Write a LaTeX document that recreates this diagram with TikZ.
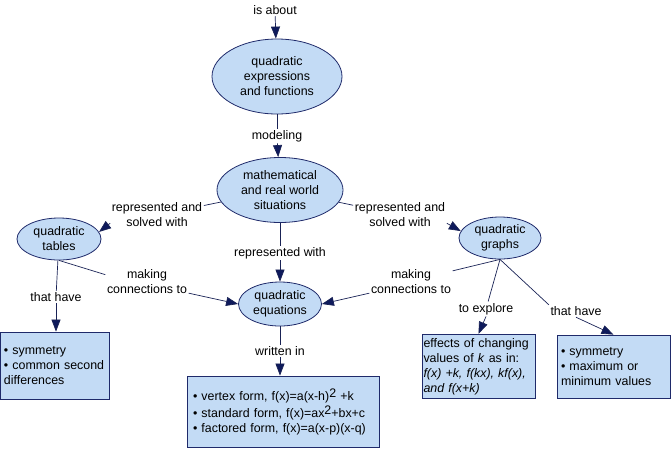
\documentclass[tikz,border=0pt]{standalone}
\usepackage{fontspec}
\setmainfont{Liberation Sans}
\usetikzlibrary{shapes.geometric,arrows.meta}

\definecolor{cfill}{HTML}{C3DBF5}
\definecolor{cline}{HTML}{1F2A6A}
\definecolor{ctip}{HTML}{0E1A5C}

\tikzset{
	every node/.style={font=\fontsize{12.4}{15}\selectfont},
	concept/.style={ellipse, draw=cline, fill=cfill, line width=0.8pt, inner sep=0pt, align=center},
	infobox/.style={rectangle, draw=cline, fill=cfill, line width=0.8pt, inner sep=5pt, align=left},
	linklbl/.style={align=center, inner sep=1.5pt},
	link/.style={draw=cline!80!black, line width=0.7pt},
	arr/.style={link, -{Triangle[length=12pt,width=9pt,fill=ctip]}}
}

\begin{document}
\begin{tikzpicture}[x=1pt, y=-1pt]
		\useasboundingbox (0,0) rectangle (671,448);

		% concepts
		\node[concept, minimum width=130pt, minimum height=75pt] (qef) at (277,76.5) {quadratic\\expressions\\and functions};
		\node[concept, minimum width=126pt, minimum height=65pt] (sit) at (280,190) {mathematical\\and real world\\situations};
		\node[concept, minimum width=84pt, minimum height=42pt] (tab) at (59,239) {quadratic\\tables};
		\node[concept, minimum width=82pt, minimum height=42pt] (gra) at (500,238) {quadratic\\graphs};
		\node[concept, minimum width=83pt, minimum height=44pt] (equ) at (280,304) {quadratic\\equations};

		% boxes
		\node[infobox, text width=101pt, minimum height=67pt, inner sep=4pt] (boxl) at (54.5,365.5)
			{\textbullet\ symmetry\\\textbullet\ common second\\differences};
		\node[infobox, text width=180pt, minimum height=71pt, inner sep=6pt] (boxf) at (283,411.5)
			{\textbullet\ vertex form, f(x)=a(x-h)\raisebox{3pt}{2} +k\\[2pt]
			 \textbullet\ standard form, f(x)=ax\raisebox{3pt}{2}+bx+c\\
			 \textbullet\ factored form, f(x)=a(x-p)(x-q)};
		\node[infobox, text width=110pt, minimum height=63pt, inner xsep=1.5pt, inner ysep=4pt] (boxe) at (478.5,366.5)
			{effects of changing\\values of \textit{k} as in:\\\textit{f(x) +k, f(kx), kf(x),}\\\textit{and f(x+k)}};
		\node[infobox, text width=105pt, minimum height=63pt, inner sep=4pt] (boxr) at (613.5,366.5)
			{\textbullet\ symmetry\\\textbullet\ maximum or\\minimum values};

		% link labels
		\node[linklbl] (isab) at (275,10) {is about};
		\node[linklbl] (model) at (277,136) {modeling};
		\node[linklbl] (rsl) at (157,215) {represented and\\solved with};
		\node[linklbl] (rsr) at (400,215) {represented and\\solved with};
		\node[linklbl] (rw) at (280,253) {represented with};
		\node[linklbl] (mcl) at (147,282) {making\\connections to};
		\node[linklbl] (mcr) at (411,282) {making\\connections to};
		\node[linklbl] (thl) at (56,297) {that have};
		\node[linklbl] (wri) at (280,351) {written in};
		\node[linklbl] (expl) at (486,309) {to explore};
		\node[linklbl] (thr) at (576,311) {that have};

		% links
		\draw[arr] (isab) -- (qef);
		\draw[link] (qef) -- (model);
		\draw[arr] (model) -- (sit);
		\draw[link] (sit) -- (rsl);
		\draw[arr] (rsl.190) -- (tab.10);
		\draw[link] (sit) -- (rsr);
		\draw[arr] (rsr.350) -- (gra.170);
		\draw[link] (sit) -- (rw);
		\draw[arr] (rw) -- (equ);
		\draw[link] (tab.south) -- (mcl.170);
		\draw[arr] (mcl.345) -- (equ.west);
		\draw[link] (gra.south) -- (mcr.15);
		\draw[arr] (mcr.195) -- (equ.east);
		\draw[link] (tab) -- (thl);
		\draw[arr] (thl) -- (thl |- boxl.north);
		\draw[link] (equ) -- (wri);
		\draw[arr] (wri) -- (wri |- boxf.north);
		\draw[link] (gra.south) -- (expl);
		\draw[arr] (expl.south) -- (boxe.north);
		\draw[link] (gra.south) -- (thr.north west);
		\draw[arr] (thr.south) -- (boxr.north);
	\end{tikzpicture}
\end{document}
